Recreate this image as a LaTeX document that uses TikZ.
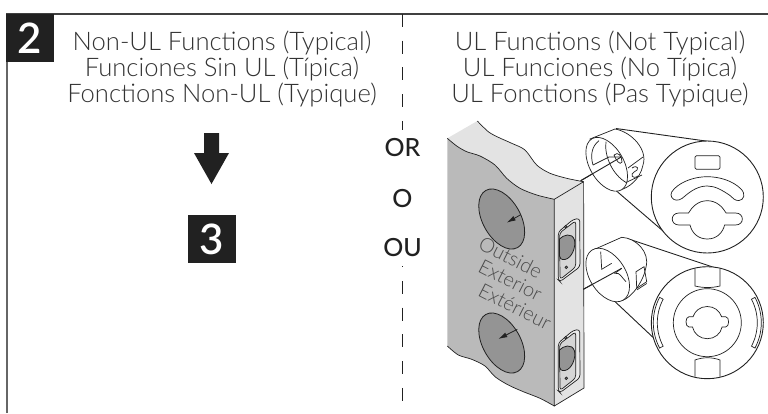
\documentclass[tikz,border=0pt]{standalone}
\usepackage{fontspec}
\setmainfont{Lato}[UprightFont=* Light,BoldFont=* Medium]
\newfontfamily\digitfont{Lato Semibold}
\usetikzlibrary{positioning,arrows.meta}
\definecolor{slabface}{gray}{0.73}
\definecolor{slabedge}{gray}{0.89}
\definecolor{knockout}{gray}{0.58}
\definecolor{inkline}{gray}{0.13}
\begin{document}
\begin{tikzpicture}[x=1pt,y=-1pt]
\tikzstyle{stepbox}=[fill=inkline, text=white, minimum size = 48pt, inner sep=0pt, font=\fontsize{42}{42}\digitfont]
\tikzstyle{heading}=[align=center, text=black!80, inner sep=0pt, font=\fontsize{25.6}{26}\selectfont]
\tikzstyle{choice}=[anchor=base, inner sep=0pt, text=inkline, font=\fontsize{25}{25}\selectfont\bfseries]
\tikzstyle{facetext}=[anchor=base west, inner sep=0pt, rotate=-27, text=black!70, font=\fontsize{20}{20}\selectfont]
\tikzstyle{thinline}=[line width=0.7pt, inkline]
\tikzstyle{connect}=[line width=0.9pt, inkline]
\tikzstyle{hole}=[line width=0.8pt, draw=inkline, fill=knockout]
\tikzstyle{pointer}=[line width=0.8pt, inkline, -{Latex[length=9pt,width=5pt]}]
\useasboundingbox (0,0) rectangle (768,413);
  % frame
  \draw[line width=2pt, black!60] (7,413) -- (7,14);
  \draw[line width=1.4pt, black!75] (6,14) -- (768,14);
  \node[stepbox] (two) at (30,38) {2};
  \node[stepbox] (three) at (211.5,239) {3};
  \node[heading] (nonul) at (222,69) {Non-UL Functions (Typical)\\Funciones Sin UL (Típica)\\Fonctions Non-UL (Typique)};
  \node[heading] (ul) at (600,69) {UL Functions (Not Typical)\\UL Funciones (No Típica)\\UL Fonctions (Pas Typique)};
  \fill[inkline] (204,133) -- (219,133) -- (219,153) -- (229,153) -- (211.5,184) -- (194,153) -- (204,153) -- cycle;
  % divider
  \draw[connect, dash pattern=on 13pt off 13.7pt] (402.5,14) -- (402.5,130);
  \draw[connect, dash pattern=on 13pt off 13.7pt, dash phase=11.7pt] (402.5,266) -- (402.5,401);
  \node[choice] (or) at (402.5,156.7) {OR};
  \node[choice] (o) at (402.5,207.7) {O};
  \node[choice] (ou) at (402.5,256.7) {OU};
  % slab
  \fill[slabedge] plot[smooth] coordinates {(477.3,121) (488.3,131.7) (498.3,137.3) (511.7,143.3) (525,150) (536.7,165) (550,173.3) (566.7,178.3) (583.3,181.7)} -- (554.3,199.3) -- plot[smooth] coordinates {(554.3,199.3) (536.7,195) (520,188.3) (506.7,178.3) (495,165) (480,156) (466.7,151.7) (456.7,146) (447.3,138.3)} -- cycle;
  \fill[slabface] plot[smooth] coordinates {(447.3,138.3) (456.7,146) (466.7,151.7) (480,156) (495,165) (506.7,178.3) (520,188.3) (536.7,195) (554.3,199.3)} -- (554.3,406) -- plot[smooth] coordinates {(554.3,406) (540,398.3) (523.3,391.7) (508.3,385) (495,376.7) (485,366) (471.7,359.3) (458.3,355) (447.3,346)} -- cycle;
  \fill[slabedge] (554.3,199.3) -- (583.6,181.7) -- (584,388) -- (554.3,406) -- cycle;
  \draw[thinline] plot[smooth] coordinates {(477.3,121) (488.3,131.7) (498.3,137.3) (511.7,143.3) (525,150) (536.7,165) (550,173.3) (566.7,178.3) (583.3,181.7)};
  \draw[thinline] plot[smooth] coordinates {(447.3,138.3) (456.7,146) (466.7,151.7) (480,156) (495,165) (506.7,178.3) (520,188.3) (536.7,195) (554.3,199.3)};
  \draw[thinline] plot[smooth] coordinates {(554.3,406) (540,398.3) (523.3,391.7) (508.3,385) (495,376.7) (485,366) (471.7,359.3) (458.3,355) (447.3,346)};
  \draw[thinline] (554.3,199.3) -- (583.6,181.7) -- (584,388) -- (554.3,406) -- cycle;
  % knockouts on the outside face
  \foreach \cy/\ax/\ay/\bx/\by in {219/520.7/214.7/506.7/222.7, 343/517.3/329.3/498.3/339}{
    \draw[hole, shift={(501.7,\cy)}, rotate=-61] (0,0) ellipse [x radius=32.7, y radius=19];
    \draw[pointer] (\ax,\ay) -- (\bx,\by);
  }
  \node[facetext] (outside) at (477,248) {Outside};
  \node[facetext] (exterior) at (476.7,271) {Exterior};
  \node[facetext] (exterieur) at (476.7,295) {Extérieur};
  % edge plates
  \foreach \dy in {0,111}{
  \begin{scope}[yshift=-\dy pt]
    \filldraw[thinline, fill=white!92!black, rounded corners=3pt] (558.3,232) -- (573,219.5) -- (579.7,218.3) -- (580,266.7) -- (560,281.7) -- (558.3,280) -- cycle;
    \filldraw[thinline, fill=slabface!60!white, rounded corners=3pt] (559.6,233) -- (575.7,220.7) -- (575.7,267) -- (560,279.5) -- cycle;
    \draw[hole] (559.5,239) .. controls (563,235) and (572,232) .. (574.5,240) .. controls (576,247) and (572,258) .. (565,259.5) .. controls (561,260) and (559.5,258) .. (559.5,256) -- cycle;
    \draw[thinline, fill=knockout] (565.7,226.7) circle [radius=1.3];
    \draw[thinline, fill=knockout] (566.3,267.3) circle [radius=1.3];
  \end{scope}
  }
  % leaders
  \coordinate (cornerA) at (580.7,180.7);
  \coordinate (cylinderA) at (621.7,156.7);
  \coordinate (cornerB) at (583.3,289.3);
  \coordinate (cylinderB) at (621.7,268.3);
  \draw[connect] (cornerA) -- (cylinderA);
  \draw[connect] (cornerB) -- (cylinderB);
  \draw[connect] (616,128.5) -- (715,142.3);
  \draw[connect] (613,188) -- (670,237);
  \draw[connect] (626.7,238.3) -- (716.7,268.3);
  \draw[connect] (613.3,300) -- (670,353.3);
  % upper cylinder
  \filldraw[thinline, fill=white] (590,139) -- (615,129) .. controls (632,132) and (648,150) .. (643,165) .. controls (640,180) and (628,188) .. (620,190) -- (600,170) -- cycle;
  \draw[thinline, fill=white, shift={(606.7,164.3)}, rotate=-60] (0,0) ellipse [x radius=29.5, y radius=17];
  \draw[thinline] (593,165) .. controls (590,155) and (592,146) .. (599,140.7);
  \draw[thinline] (593,165) -- (609,157) -- (620,157);
  \draw[connect] (cornerA) -- (cylinderA);
  \draw[thinline] (606,141.7) .. controls (604,155) and (612,175) .. (627,183);
  \draw[thinline] (614,155) .. controls (618,151) and (622,156) .. (622,162) .. controls (620,166) and (616,160) .. (614,155);
  \draw[thinline] (628,168) -- (643,157);
  \draw[thinline] (627,182) -- (642,175);
  \draw[thinline] (632,168) .. controls (638,164) and (640,170) .. (634,172) .. controls (630,174) and (632,180) .. (638,176);
  % lower cylinder
  \filldraw[thinline, fill=white] (593,250) -- (621.7,237.3) .. controls (636,238) and (650,252) .. (646,267) .. controls (644,280) and (632,298) .. (621.7,300.7) -- (600,290) -- cycle;
  \draw[thinline, fill=white, shift={(607.7,275)}, rotate=-58] (0,0) ellipse [x radius=29.5, y radius=18];
  \draw[connect] (cornerB) -- (cylinderB);
  \draw[thinline] (600.7,251.7) -- (601.7,269.3) -- (611.7,263.3);
  \draw[thinline] (621.7,268.3) -- (615,273.3) .. controls (620,272) and (622,278) .. (626,281.7);
  \draw[thinline] (636,271.7) -- (644,266.7) -- (646.7,281.7) -- (636.7,288.3) -- cycle;
  \draw[thinline] (637,289.8) -- (646.7,283.5);
  % upper close up
  \draw[connect, fill=white] (707.3,197) circle [radius=56];
  \draw[thinline, rounded corners=1.5pt] (695,155.7) rectangle (720,169.3);
  \draw[thinline] (674,189) .. controls (682,181) and (695,176.7) .. (707.3,176.7) .. controls (720,176.7) and (733,181) .. (741,189) .. controls (746,194) and (744,200) .. (739,200.5) .. controls (735,201) and (733,198) .. (730,195.5) .. controls (722,190) and (715,186) .. (707.3,186) .. controls (699,186) and (692,190) .. (685,196) .. controls (681,200) and (677,201) .. (674,199.5) .. controls (670,197) and (670,193) .. (674,189) -- cycle;
  \draw[thinline] (707.3,200.7) .. controls (698,200.7) and (692,207) .. (688.5,213) -- (679,213) .. controls (670,213) and (670,225) .. (679,225) -- (690,225) .. controls (692,233) and (698,239) .. (707.3,239) .. controls (716.6,239) and (722.6,233) .. (724.6,225) -- (735.6,225) .. controls (744.6,225) and (744.6,213) .. (735.6,213) -- (726.1,213) .. controls (722.6,207) and (716.6,200.7) .. (707.3,200.7) -- cycle;
  % lower close up
  \draw[connect, fill=white] (707.3,322.7) circle [radius=56];
  \draw[thinline] (707.3,322.7) circle [radius=34];
  \draw[thinline] (695,268.5) -- (695,286) .. controls (703,288) and (712,288) .. (720,286) -- (720,268.5);
  \draw[thinline] (695,376.5) -- (695,360) .. controls (703,357) and (712,357) .. (720,360) -- (720,376.5);
  \draw[thinline] plot[domain=152:208,samples=15] ({707.3+54*cos(\x)},{322.7+54*sin(\x)}) -- plot[domain=208:152,samples=15] ({707.3+50*cos(\x)},{322.7+50*sin(\x)}) -- cycle;
  \draw[thinline] plot[domain=-28:28,samples=15] ({707.3+54*cos(\x)},{322.7+54*sin(\x)}) -- plot[domain=28:-28,samples=15] ({707.3+50*cos(\x)},{322.7+50*sin(\x)}) -- cycle;
  \draw[thinline] (707.3,306.5) .. controls (700,306.5) and (695,311) .. (693,316.7) -- (689,316.7) .. controls (685,316.7) and (685,327) .. (689,327) -- (692.5,327) .. controls (694,334) and (700,338.7) .. (707.3,338.7) .. controls (714.6,338.7) and (720.6,334) .. (722.1,327) -- (725.6,327) .. controls (729.6,327) and (729.6,316.7) .. (725.6,316.7) -- (721.6,316.7) .. controls (719.6,311) and (714.6,306.5) .. (707.3,306.5) -- cycle;
\end{tikzpicture}
\end{document}
